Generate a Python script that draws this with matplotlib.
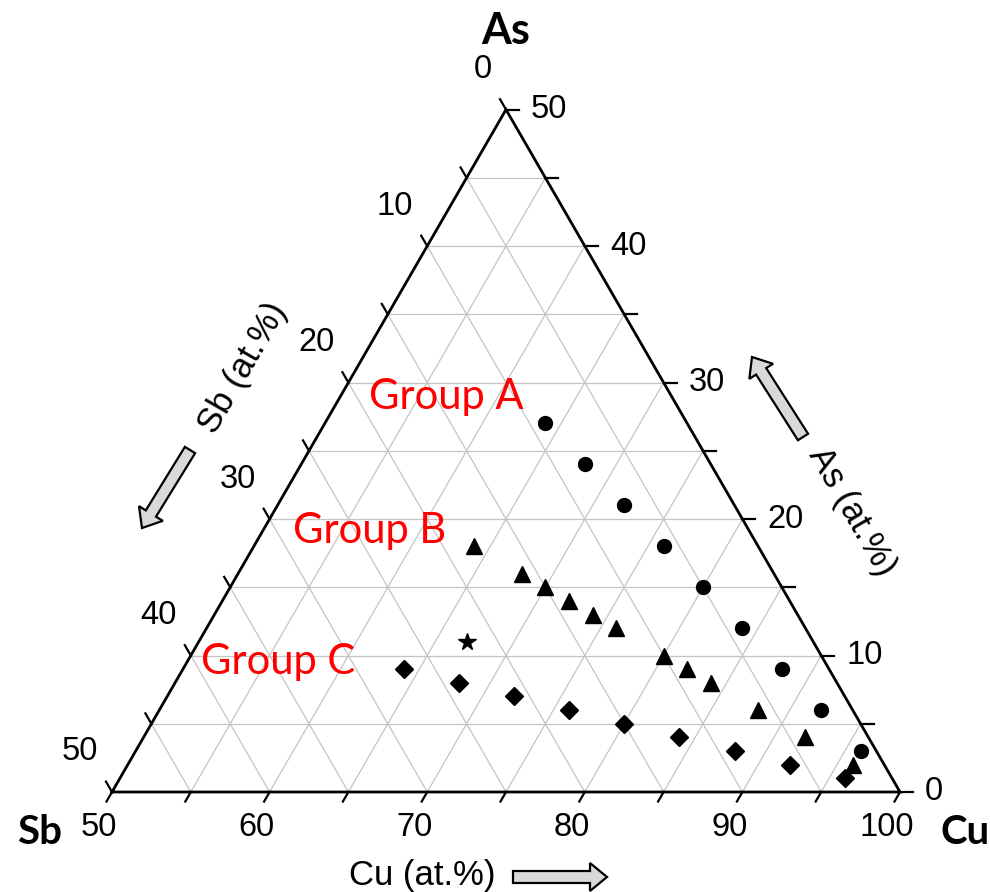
import numpy as np
import matplotlib
matplotlib.use('Agg')
import matplotlib.pyplot as plt
from matplotlib.patches import FancyArrow

# ---- data (at.%) : Cu and As given, Sb = 100 - Cu - As ----
groupA_cu = [64, 68, 72, 76, 80, 84, 88, 92, 96]
groupA_as = [27, 24, 21, 18, 15, 12, 9, 6, 3]
groupB_cu = [64, 68, 70, 72, 74, 76, 80, 82, 84, 88, 92, 96]
groupB_as = [18, 16, 15, 14, 13, 12, 10, 9, 8, 6, 4, 2]
groupC_cu = [64, 68, 72, 76, 80, 84, 88, 92, 96]
groupC_as = [9, 8, 7, 6, 5, 4, 3, 2, 1]
star_cu = [67]
star_as = [11]

cu_ticks = [50, 60, 70, 80, 90, 100]
as_ticks = [0, 10, 20, 30, 40, 50]
sb_ticks = [0, 10, 20, 30, 40, 50]
group_labels = ['Group A', 'Group B', 'Group C']

S = 788.0            # pixels per unit side
R3 = np.sqrt(3) / 2


def tern(cu, as_):
    cu = np.asarray(cu, float)
    a = np.asarray(as_, float)
    x = (cu - 50) / 50 + 0.5 * a / 50
    y = (a / 50) * R3
    return x, y


def sb_pt(sb):
    return tern(50, 50 - np.asarray(sb, float))


def P(px, py):
    """layout position given in figure pixels"""
    return (px - 112) / S, (792 - py) / S


def d(p):
    return p / S


fig = plt.figure(figsize=(9.9, 8.92), dpi=100)
ax = fig.add_axes([0, 0, 1, 1])
ax.set_xlim(-112 / S, 878 / S)
ax.set_ylim(-100 / S, 792 / S)
ax.axis('off')

grid_kw = dict(color='#c4c4c4', lw=0.9, zorder=1)
for v in range(5, 50, 5):
    # constant As
    x0, y0 = tern(50, v); x1, y1 = tern(100 - v, v)
    ax.plot([x0, x1], [y0, y1], **grid_kw)
    # constant Cu
    cu = 50 + v
    x0, y0 = tern(cu, 0); x1, y1 = tern(cu, 100 - cu)
    ax.plot([x0, x1], [y0, y1], **grid_kw)
    # constant Sb
    x0, y0 = tern(100 - v, 0); x1, y1 = tern(50, 50 - v)
    ax.plot([x0, x1], [y0, y1], **grid_kw)

# triangle frame
fx, fy = tern([50, 100, 50, 50], [0, 0, 50, 0])
ax.plot(fx, fy, color='black', lw=2.0, zorder=3, solid_joinstyle='miter')

tick_font = dict(family=['Liberation Sans', 'DejaVu Sans'], fontsize=23.5)
tl = d(11)
for v in range(0, 51, 5):
    # Cu ticks (down-left)
    x, y = tern(50 + v, 0)
    ax.plot([x, x - 0.5 * tl], [y, y - R3 * tl], color='black', lw=1.6, zorder=3)
    # As ticks (right)
    x, y = tern(100 - v, v)
    ax.plot([x, x + d(13)], [y, y], color='black', lw=1.6, zorder=3)
    # Sb ticks (up-left)
    x, y = sb_pt(v)
    ax.plot([x, x - 0.5 * d(12)], [y, y + R3 * d(12)], color='black', lw=1.6, zorder=3)

for v in cu_ticks:
    x, y = tern(v, 0)
    ax.text(x - d(13), y - d(35), str(v), ha='center', va='center', **tick_font)
for v in as_ticks:
    x, y = tern(100 - v, v)
    ax.text(x + d(25), y, str(v), ha='left', va='center', **tick_font)
for v in sb_ticks:
    x, y = sb_pt(v)
    ax.text(x - d(14), y + d(40), str(v), ha='right', va='center', **tick_font)

# data markers
x, y = tern(groupA_cu, groupA_as)
ax.plot(x, y, 'o', color='black', ms=10, ls='none', zorder=5)
x, y = tern(groupB_cu, groupB_as)
ax.plot(x, y, '^', color='black', ms=12, ls='none', zorder=5)
x, y = tern(groupC_cu, groupC_as)
ax.plot(x, y, 'D', color='black', ms=9, ls='none', zorder=5)
x, y = tern(star_cu, star_as)
ax.plot(x, y, '*', color='black', ms=13, ls='none', zorder=5)

# group labels
grp_font = dict(family=['Lato', 'DejaVu Sans'], fontsize=30, color='red')
for lab, (px, py) in zip(group_labels, [(369, 397), (293, 531), (201, 662)]):
    ax.text(*P(px, py), lab, ha='left', va='center', zorder=6, **grp_font)

# corner labels
corner_font = dict(family=['Lato', 'DejaVu Sans'], fontweight='bold')
ax.text(*P(506, 31), 'As', ha='center', va='center', fontsize=31, **corner_font)
ax.text(*P(40, 832), 'Sb', ha='center', va='center', fontsize=29, **corner_font)
ax.text(*P(965, 832), 'Cu', ha='center', va='center', fontsize=29, **corner_font)

# axis titles
title_font = dict(family=['Liberation Sans', 'DejaVu Sans'], fontsize=25)
ax.text(*P(422, 875), 'Cu (at.%)', ha='center', va='center', **title_font)
ax.text(*P(243, 368), 'Sb (at.%)', ha='center', va='center', rotation=60,
        rotation_mode='anchor', **title_font)
ax.text(*P(852, 512), 'As (at.%)', ha='center', va='center', rotation=-60,
        rotation_mode='anchor', **title_font)

# block arrows
arr_kw = dict(width=d(12), head_width=d(28), head_length=d(17),
              length_includes_head=True, fc='#d9d9d9', ec='black', lw=1.6, zorder=4)
for (tx, ty), (hx, hy) in [((513, 877), (607, 877)),
                           ((190, 450), (142, 528)),
                           ((803, 437), (752, 357))]:
    x0, y0 = P(tx, ty); x1, y1 = P(hx, hy)
    ax.add_patch(FancyArrow(x0, y0, x1 - x0, y1 - y0, **arr_kw))

fig.savefig('out.png', dpi=100)
